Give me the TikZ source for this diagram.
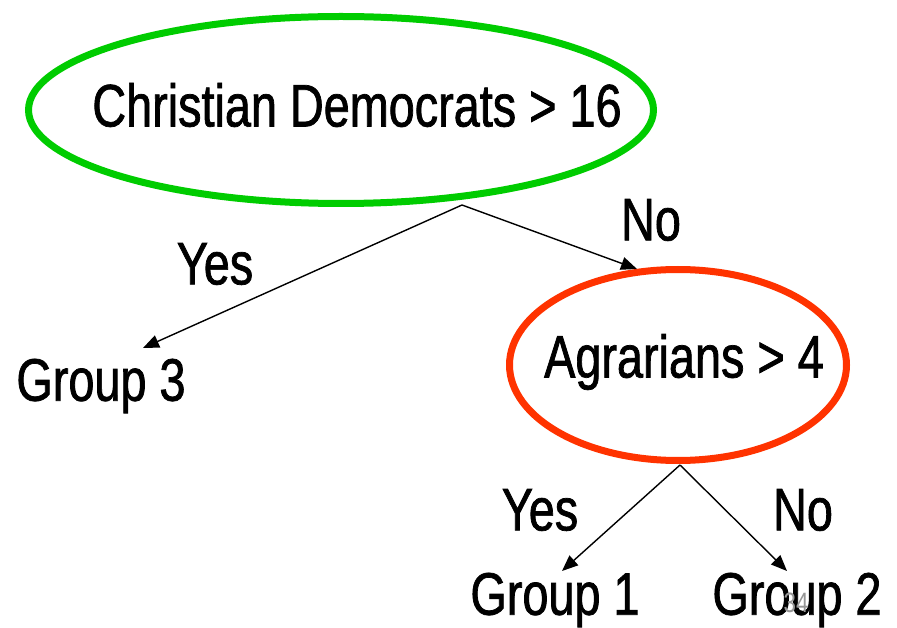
\documentclass[tikz,border=0pt]{standalone}
\usepackage{fontspec}
\setmainfont{Liberation Sans}[FakeStretch=0.78,FakeBold=1.2]
\newfontfamily\pgnumfont{Liberation Sans}[FakeStretch=0.8]
\usetikzlibrary{shapes.geometric,arrows.meta}
\definecolor{cgreen}{RGB}{0,204,0}
\definecolor{cred}{RGB}{255,51,0}
\definecolor{cgray}{RGB}{150,150,150}
\begin{document}
\begin{tikzpicture}[x=1pt,y=-1pt,
  oval/.style={ellipse,line width=7pt,inner sep=0pt},
  lbl/.style={inner sep=0pt,font=\fontsize{60}{64}\selectfont},
  conn/.style={line width=1.4pt,-{Triangle[length=16pt,width=13pt]}}]
\useasboundingbox (0,0) rectangle (897,628);
\node[oval,draw=cgreen,minimum width=625pt,minimum height=187pt] (cd) at (341,110) {};
\node[lbl] (cdt) at (357,105) {Christian Democrats > 16};
\node[oval,draw=cred,minimum width=337pt,minimum height=191pt] (ag) at (678,365) {};
\node[lbl] (agt) at (684,362) {Agrarians > 4};
\node[lbl] (g3) at (101,386) {Group 3};
\node[lbl] (g1) at (555,600) {Group 1};
\node[lbl] (g2) at (797,600) {Group 2};
\node[lbl] (y1) at (215,264) {Yes};
\node[lbl] (n1) at (651,220) {No};
\node[lbl] (y2) at (540,510) {Yes};
\node[lbl] (n2) at (803,510) {No};
\node[inner sep=0pt,text=cgray,font=\pgnumfont\fontsize{28}{30}\selectfont] (pg) at (796,603) {34};
\coordinate (a1) at (462,205);
\coordinate (a2) at (680,465);
\coordinate (t3) at (143,348);
\coordinate (tag) at (637,269);
\coordinate (t1) at (562,571);
\coordinate (t2) at (787,571);
\draw[conn] (a1) -- (t3);
\draw[conn] (a1) -- (tag);
\draw[conn] (a2) -- (t1);
\draw[conn] (a2) -- (t2);
\end{tikzpicture}
\end{document}
